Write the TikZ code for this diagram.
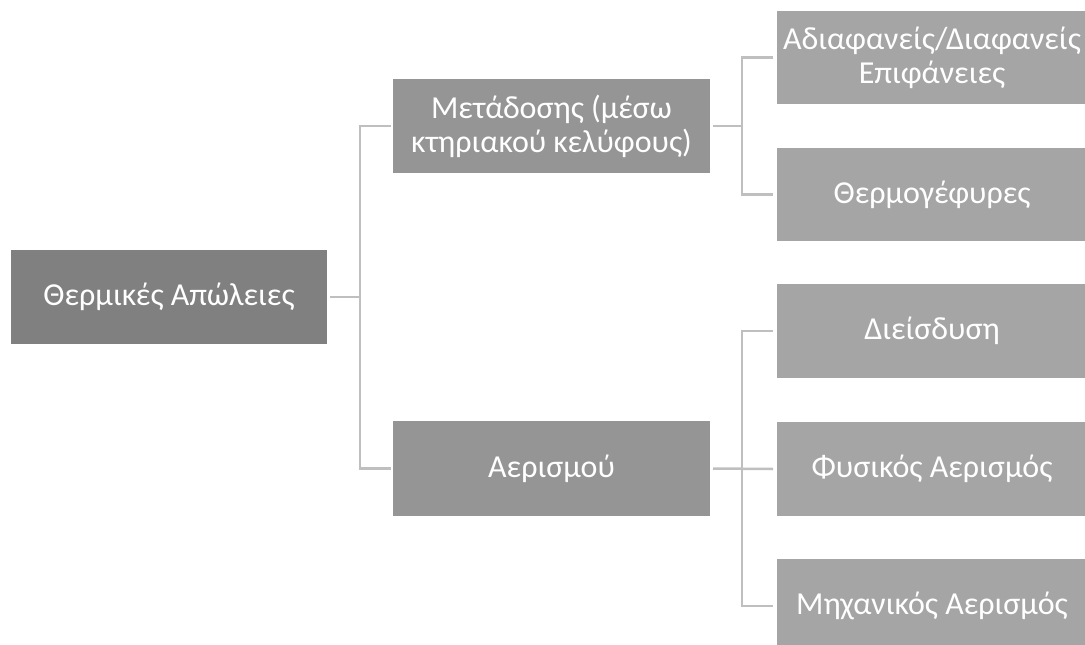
\documentclass[tikz,border=0pt]{standalone}
\usepackage{fontspec}
\setmainfont{Carlito}
\definecolor{c1}{HTML}{808080}
\definecolor{c2}{HTML}{959595}
\definecolor{c3}{HTML}{A5A5A5}
\definecolor{ln}{HTML}{BFBFBF}
\begin{document}
\begin{tikzpicture}[x=1pt,y=-1pt,
  bx/.style={anchor=north west,inner sep=0pt,outer sep=0pt,text=white,align=center,font=\fontsize{32}{34}\selectfont},
  conn/.style={draw=ln,line width=2.5pt}]
\useasboundingbox[fill=white] (0,0) rectangle (1085,645);
\node[bx,fill=c1,minimum width=316pt,minimum height=94pt] (root) at (11,250) {Θερμικές Απώλειες};
\node[bx,fill=c2,minimum width=317pt,minimum height=94pt] (m) at (393,79) {Μετάδοσης (μέσω\\κτηριακού κελύφους)};
\node[bx,fill=c2,minimum width=317pt,minimum height=95pt] (a) at (393,421) {Αερισμού};
\node[bx,fill=c3,minimum width=310pt,minimum height=93pt] (t1) at (777,11) {Αδιαφανείς/Διαφανείς\\Επιφάνειες};
\node[bx,fill=c3,minimum width=310pt,minimum height=93pt] (t2) at (777,148) {Θερμογέφυρες};
\node[bx,fill=c3,minimum width=310pt,minimum height=94pt] (t3) at (777,284) {Διείσδυση};
\node[bx,fill=c3,minimum width=310pt,minimum height=94pt] (t4) at (777,422) {Φυσικός Αερισμός};
\node[bx,fill=c3,minimum width=310pt,minimum height=94pt] (t5) at (777,559) {Μηχανικός Αερισμός};
\coordinate (j0) at ([xshift=-33pt]m.west);
\coordinate (j1) at ([xshift=32pt]m.east);
\coordinate (j2) at ([xshift=32pt]a.east);
\draw[conn] ([xshift=3pt]root.east) -- (root.east -| j0);
\draw[conn] ([xshift=-2pt]m.west) -- (j0) |- ([xshift=-2pt]a.west);
\draw[conn] ([xshift=3pt]m.east) -- (j1);
\draw[conn] ([xshift=-4pt]t1.west) -| (j1) |- ([xshift=-4pt]t2.west);
\draw[conn] ([xshift=3pt]a.east) -- ([xshift=-4pt]t4.west);
\draw[conn] ([xshift=-4pt]t3.west) -| (j2) |- ([xshift=-4pt]t5.west);
\end{tikzpicture}
\end{document}
